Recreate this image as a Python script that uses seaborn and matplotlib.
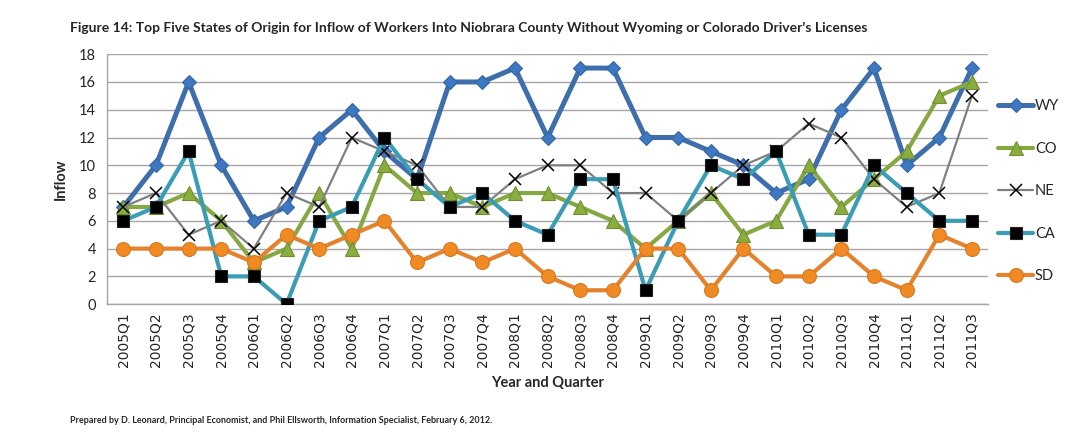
import matplotlib
matplotlib.use("Agg")
import matplotlib.pyplot as plt
import seaborn as sns
import pandas as pd

quarters = ["2005Q1", "2005Q2", "2005Q3", "2005Q4", "2006Q1", "2006Q2", "2006Q3", "2006Q4",
            "2007Q1", "2007Q2", "2007Q3", "2007Q4", "2008Q1", "2008Q2", "2008Q3", "2008Q4",
            "2009Q1", "2009Q2", "2009Q3", "2009Q4", "2010Q1", "2010Q2", "2010Q3", "2010Q4",
            "2011Q1", "2011Q2", "2011Q3"]
wy = [7, 10, 16, 10, 6, 7, 12, 14, 11, 9, 16, 16, 17, 12, 17, 17, 12, 12, 11, 10, 8, 9, 14, 17, 10, 12, 17]
co = [7, 7, 8, 6, 3, 4, 8, 4, 10, 8, 8, 7, 8, 8, 7, 6, 4, 6, 8, 5, 6, 10, 7, 9, 11, 15, 16]
ne = [7, 8, 5, 6, 4, 8, 7, 12, 11, 10, 7, 7, 9, 10, 10, 8, 8, 6, 8, 10, 11, 13, 12, 9, 7, 8, 15]
ca = [6, 7, 11, 2, 2, 0, 6, 7, 12, 9, 7, 8, 6, 5, 9, 9, 1, 6, 10, 9, 11, 5, 5, 10, 8, 6, 6]
sd = [4, 4, 4, 4, 3, 5, 4, 5, 6, 3, 4, 3, 4, 2, 1, 1, 4, 4, 1, 4, 2, 2, 4, 2, 1, 5, 4]
series_names = ["WY", "CO", "NE", "CA", "SD"]
series_values = [wy, co, ne, ca, sd]

styles = {
    "WY": dict(color="#3E6EAB", lw=3.6, marker="D", ms=7.5, mfc="#3E78C0", mec="#3566A6", mew=0.8),
    "CO": dict(color="#86A842", lw=3.0, marker="^", ms=10, mfc="#8AAE3E", mec="#6E8E30", mew=0.8),
    "NE": dict(color="#808080", lw=1.6, marker="x", ms=8, mfc="black", mec="black", mew=1.1),
    "CA": dict(color="#3A9DB5", lw=3.0, marker="s", ms=9, mfc="black", mec="#222222", mew=0.8),
    "SD": dict(color="#E5822E", lw=3.0, marker="o", ms=10, mfc="#F08A24", mec="#D9781F", mew=0.8),
}

sns.set_style("white")
plt.rcParams["font.family"] = ["Lato", "DejaVu Sans"]

fig = plt.figure(figsize=(10.92, 4.37), dpi=100)
ax = fig.add_axes([0.098, 0.304, 0.807, 0.572])

for name, vals in zip(series_names, series_values):
    st = styles[name]
    df = pd.DataFrame({"Quarter": quarters, "Inflow": vals})
    sns.lineplot(data=df, x="Quarter", y="Inflow", sort=False, ax=ax, label=name,
                 color=st["color"], linewidth=st["lw"], marker=st["marker"],
                 markersize=st["ms"], markerfacecolor=st["mfc"],
                 markeredgecolor=st["mec"], markeredgewidth=st["mew"], zorder=3)

ax.set_xlim(-0.5, len(quarters) - 0.5)
ax.set_ylim(0, 18)
ax.set_yticks(range(0, 19, 2))
ax.yaxis.grid(True, color="#A6A6A6", linewidth=1.0)
ax.xaxis.grid(False)
ax.set_axisbelow(True)
for s in ["top", "right"]:
    ax.spines[s].set_visible(False)
for s in ["left", "bottom"]:
    ax.spines[s].set_color("#A6A6A6")
    ax.spines[s].set_linewidth(1.0)

ax.tick_params(axis="y", labelsize=10.5, length=0, pad=8)
ax.tick_params(axis="x", length=0, pad=6)
for lbl in ax.get_xticklabels():
    lbl.set_rotation(90)
    lbl.set_fontsize(10)
    lbl.set_family("DejaVu Sans")

ax.set_xlabel("Year and Quarter", fontsize=10.5, fontweight="bold", labelpad=6)
ax.set_ylabel("Inflow", fontsize=10.5, fontweight="bold", labelpad=8)

ax.legend(loc="upper left", bbox_to_anchor=(1.0, 0.86), frameon=False,
          fontsize=10.5, handlelength=2.4, handletextpad=0.1, labelspacing=1.95,
          borderaxespad=0.3)

fig.text(0.064, 0.936, "Figure 14: Top Five States of Origin for Inflow of Workers Into Niobrara County Without Wyoming or Colorado Driver's Licenses",
         fontsize=10, fontweight="bold", ha="left", va="center")
fig.text(0.064, 0.037, "Prepared by D. Leonard, Principal Economist, and Phil Ellsworth, Information Specialist, February 6, 2012.",
         fontsize=6.5, fontweight="bold", ha="left", va="center")

fig.savefig("out.png", dpi=100)
